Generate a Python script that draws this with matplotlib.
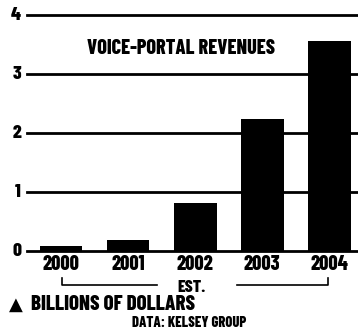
import matplotlib
matplotlib.use("Agg")
import matplotlib.pyplot as plt

years = ["2000", "2001", "2002", "2003", "2004"]
revenues = [0.08, 0.19, 0.81, 2.24, 3.56]
yticks = [0, 1, 2, 3, 4]

plt.rcParams['font.family'] = ['Barlow Condensed', 'Open Sans Condensed', 'DejaVu Sans']
WT = 800

W, H = 358, 334
fig = plt.figure(figsize=(W / 100, H / 100), dpi=100)
ax = fig.add_axes([27 / W, (H - 251) / H, (W - 27) / W, (251 - 15) / H])
ax.set_xlim(-0.507, 4.43)
ax.set_ylim(0, 4)
for s in ax.spines.values():
    s.set_visible(False)
ax.set_xticks([])
ax.set_yticks([])


def px(xp, yp):
    return xp / W, (H - yp) / H


for v in yticks:
    ax.axhline(v, color='black', lw=2, zorder=1, clip_on=False)
    yp = 251 - v * 59
    fig.text(*px(21, yp), str(v), ha='right', va='center', fontsize=14,
             fontweight=WT)

x = list(range(len(years)))
ax.bar(x, revenues, width=0.64, color='black', zorder=2)

for xi, yr in zip(x, years):
    xp = 27 + (xi + 0.507) * (W - 27) / 4.937
    fig.text(*px(xp, 265), yr, ha='center', va='center', fontsize=14.5, fontweight=WT)

fig.text(*px(181, 49), "VOICE-PORTAL REVENUES", ha='center', va='center',
         fontsize=14.5, fontweight=WT)

# EST. bracket
fig.add_artist(plt.Line2D(*zip(px(62, 278), px(62, 285), px(157, 285)),
                          color='black', lw=1.2))
fig.add_artist(plt.Line2D(*zip(px(237, 285), px(328, 285), px(328, 278)),
                          color='black', lw=1.2))
fig.text(*px(192, 287), "EST.", ha='center', va='center', fontsize=12.5, fontweight=WT)
fig.text(*px(9, 305), "\u25B2", ha='left', va='center', fontsize=13,
         family='DejaVu Sans')
fig.text(*px(31, 305), "BILLIONS OF DOLLARS", ha='left', va='center',
         fontsize=15, fontweight=WT)
fig.text(*px(189, 323), "DATA: KELSEY GROUP", ha='center', va='center',
         fontsize=10.5, fontweight=WT)

fig.savefig("out.png", dpi=100)
